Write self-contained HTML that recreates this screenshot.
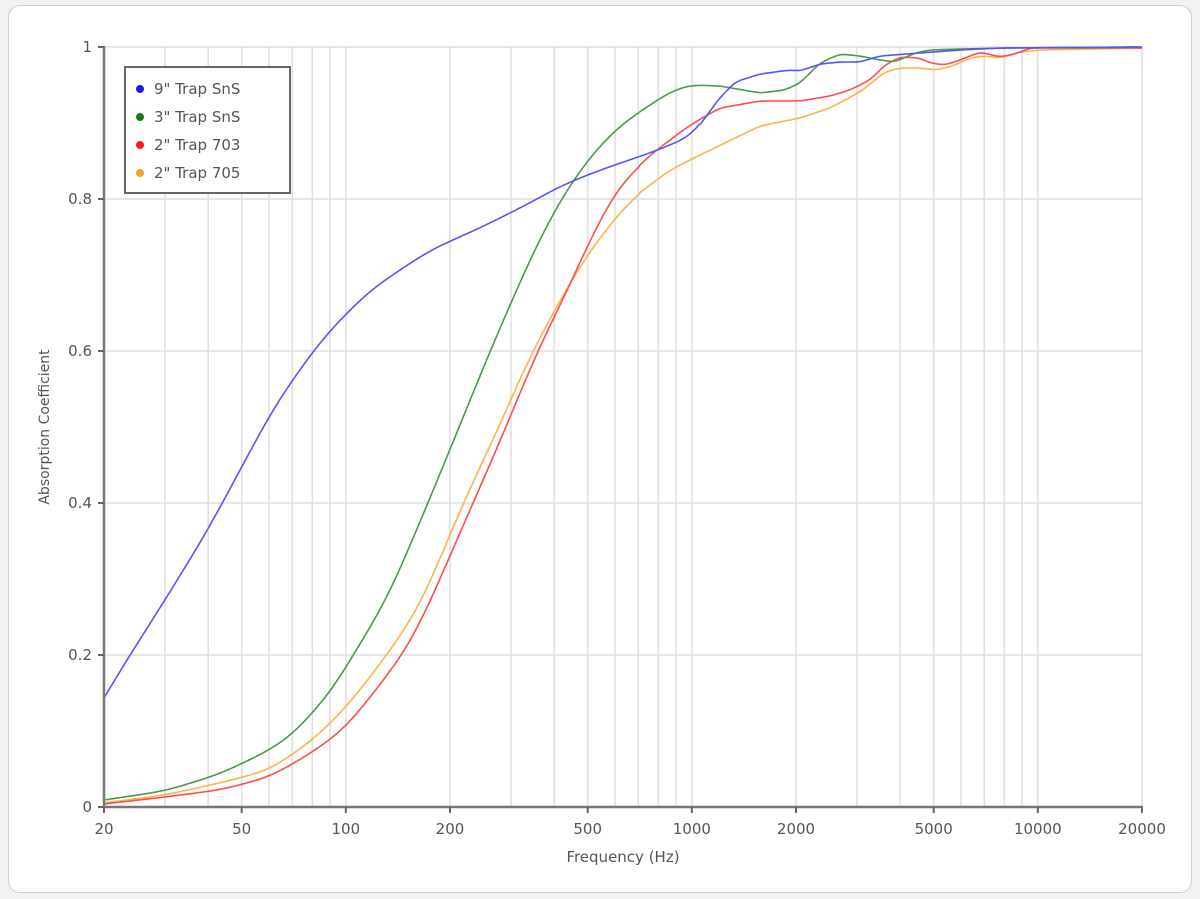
<!DOCTYPE html>
<html><head><meta charset="utf-8"><style>
html,body{margin:0;padding:0;background:#f2f2f2;}
body{width:1200px;height:899px;position:relative;overflow:hidden;font-family:"Liberation Sans",sans-serif;}
.card{position:absolute;left:8px;top:5px;width:1182px;height:886px;background:#fff;border:1px solid #d0d0d0;border-radius:12px;}
svg{position:absolute;left:0;top:0;}
text{font-family:"DejaVu Sans","Liberation Sans",sans-serif;fill:#555;}
</style></head><body>
<div class="card"></div>
<svg id="s" width="1200" height="899" viewBox="0 0 1200 899">
<g id="grid" stroke="#dedede" stroke-width="1.5"></g>
<g id="series" fill="none" stroke-width="1.6" stroke-linejoin="round"></g>
<g stroke="#777" stroke-width="2.5"><line x1="104" y1="46" x2="104" y2="808"/><line x1="103" y1="807" x2="1143" y2="807"/></g>
<g id="ticks" stroke="#666" stroke-width="2"></g>
<g id="labels" font-size="15"></g>
<text x="623" y="862" font-size="15" text-anchor="middle">Frequency (Hz)</text>
<text transform="translate(49,427) rotate(-90)" font-size="14" text-anchor="middle">Absorption Coefficient</text>
<rect x="125" y="67" width="165" height="126" fill="#fff" stroke="#666" stroke-width="2"/>
<circle cx="140" cy="89" r="4" fill="#1a1aff"/><text x="154" y="94" font-size="15">9" Trap SnS</text>
<circle cx="140" cy="117" r="4" fill="#1a7a1a"/><text x="154" y="122" font-size="15">3" Trap SnS</text>
<circle cx="140" cy="145" r="4" fill="#ff1a1a"/><text x="154" y="150" font-size="15">2" Trap 703</text>
<circle cx="140" cy="173" r="4" fill="#ffa020"/><text x="154" y="178" font-size="15">2" Trap 705</text>
</svg>
<script>
var NS="http://www.w3.org/2000/svg";
function X(f){return 104+346*Math.log10(f/20);}
function Y(v){return 807-760*v;}
function el(p,t,a){var e=document.createElementNS(NS,t);for(var k in a)e.setAttribute(k,a[k]);document.getElementById(p).appendChild(e);return e;}
var fs=[];[10,100,1000,10000].forEach(function(d){for(var i=1;i<10;i++){var f=i*d;if(f>20&&f<=20000)fs.push(f);}});
fs.forEach(function(f){var x=X(f);el("grid","line",{x1:x,y1:47,x2:x,y2:807});});
[0.2,0.4,0.6,0.8,1].forEach(function(v){el("grid","line",{x1:104,y1:Y(v),x2:1142,y2:Y(v)});});
[20,50,100,200,500,1000,2000,5000,10000,20000].forEach(function(f){var x=X(f);el("ticks","line",{x1:x,y1:807,x2:x,y2:813});var t=el("labels","text",{x:x,y:834,"text-anchor":"middle"});t.textContent=f;});
[0,0.2,0.4,0.6,0.8,1].forEach(function(v){var y=Y(v);el("ticks","line",{x1:98,y1:y,x2:104,y2:y});var t=el("labels","text",{x:92,y:y+5,"text-anchor":"end"});t.textContent=v;});
function smooth(pts){
  var ys=[],x0=104,x1=1142,j=0;
  for(var x=x0;x<=x1;x++){while(j<pts.length-2&&pts[j+1][0]<x)j++;var a=pts[j],b=pts[j+1];var t=(x-a[0])/(b[0]-a[0]);t=Math.max(0,Math.min(1,t));ys.push(a[1]+(b[1]-a[1])*t);}
  var d="";
  for(var x=x0;x<=x1;x++){var s=x<640?14:(x<700?8:4);s=Math.min(s,(x-x0)/3+0.5);var w=0,sum=0,R=Math.ceil(3*s);
    for(var k=-R;k<=R;k++){var xx=x+k;if(xx<x0||xx>x1)continue;var g=Math.exp(-k*k/(2*s*s));w+=g;sum+=g*ys[xx-x0];}
    var y=sum/w;
    d+=(x==x0?"M":" L")+x+","+y.toFixed(2);}
  return d;}
var S=[
["#ffb347",[[104,803],[165,795],[220,783],[270,770],[313,740],[346,708],[387,655],[420,607],[463,503],[500,425],[532,351],[563,295],[590,250],[630,200],[670,170],[700,155],[760,126],[800,118],[830,108],[860,92],[885,72],[900,68],[920,68],[935,70],[950,67],[970,58],[985,56],[1000,58],[1020,52],[1040,50],[1142,48]]],
["#ff4d4d",[[104,804],[165,797],[220,790],[270,777],[313,752],[346,728],[403,655],[420,625],[473,503],[505,430],[537,351],[563,300],[590,240],[615,190],[650,155],[690,125],[720,108],[760,101],[800,101],[830,96],[850,90],[870,80],[885,65],[900,57],[920,58],[930,63],[945,65],[960,60],[980,52],[1000,57],[1015,54],[1030,48],[1142,48]]],
["#4a9a4a",[[104,800],[165,791],[220,774],[270,750],[293,735],[313,712],[333,690],[353,655],[387,600],[428,503],[460,425],[490,351],[534,250],[560,200],[580,170],[600,145],[620,125],[650,105],[670,92],[690,85],[720,86],[760,93],[785,90],[800,83],[820,63],[840,54],[860,56],[880,60],[895,62],[915,53],[930,50],[960,49],[1010,48],[1142,47]]],
["#5555ff",[[104,698],[130,655],[165,600],[208,530],[240,470],[275,405],[313,351],[330,330],[370,290],[430,250],[480,228],[530,203],[560,186],[600,170],[650,153],[687,138],[700,125],[718,100],[735,82],[760,74],[790,70],[800,71],[820,64],[840,62],[860,62],[880,56],[960,50],[1000,48],[1142,47]]]];
S.forEach(function(s){el("series","path",{d:smooth(s[1]),stroke:s[0]});});
</script>
</body></html>
